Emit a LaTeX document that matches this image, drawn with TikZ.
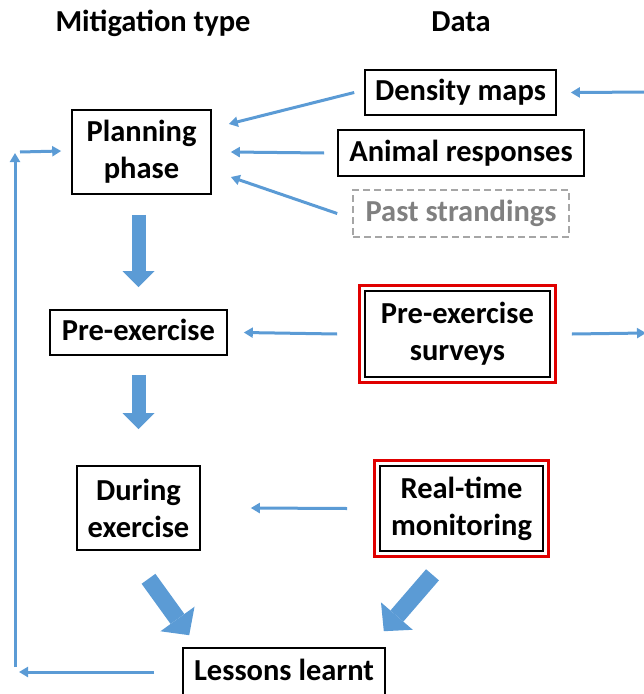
\documentclass[tikz,border=0pt]{standalone}
\usepackage{fontspec}
\setmainfont{Carlito}
\usepackage{xcolor}
\definecolor{colorLink}{HTML}{5B9BD5}
\definecolor{colorFrame}{HTML}{E00000}
\definecolor{colorPast}{HTML}{808080}
\definecolor{colorPastBorder}{HTML}{A6A6A6}
\usetikzlibrary{arrows, arrows.meta, calc, fit}
\tikzset{
  box/.style={draw, line width=1.6pt, align=center, inner sep=0pt,
    font=\fontsize{30.5pt}{37pt}\selectfont\bfseries},
  oneline/.style={text height=23pt, text depth=7pt},
  head/.style={inner sep=0pt, text height=23pt, text depth=7pt,
    font=\fontsize{30.5pt}{37pt}\selectfont\bfseries},
  redframe/.style={draw=colorFrame, line width=3pt, inner sep=4.5pt},
  link/.style={-{Triangle[length=9pt, width=10pt]}, draw=colorLink, line width=3pt},
  block/.style={draw=colorLink, line width=14pt,
    -{Triangle[length=16pt, width=32pt, line width=0pt]}},
  blockwide/.style={draw=colorLink, line width=17pt,
    -{Triangle[length=20pt, width=42pt, line width=0pt]}}
}

\begin{document}
\begin{tikzpicture}[>=stealth', x=1pt, y=-1pt]
\useasboundingbox (0,0) rectangle (644,694);
% column titles
\node[head] (htype) at (153,23) {Mitigation type};
\node[head] (hdata) at (461,23) {Data};
% data
\node[box, oneline, minimum width=191pt, minimum height=45pt] (dens) at (460.5,92.5) {Density maps};
\node[box, oneline, minimum width=246pt, minimum height=46pt] (anim) at (461,153) {Animal responses};
\node[box, oneline, draw=colorPastBorder, dash pattern=on 7pt off 4pt, text=colorPast, minimum width=216pt, minimum height=47pt] (past) at (461,213.5) {Past strandings};
\node[box, minimum width=185pt, minimum height=86pt] (surv) at (457.5,334) {Pre-exercise\\surveys};
\node[redframe, fit=(surv)] (survframe) {};
\node[box, minimum width=163pt, minimum height=85pt] (rtm) at (461.5,508.5) {Real-time\\monitoring};
\node[redframe, fit=(rtm)] (rtmframe) {};
% mitigation
\node[box, minimum width=139pt, minimum height=84pt] (plan) at (141.5,152) {Planning\\phase};
\node[box, oneline, minimum width=177pt, minimum height=45pt] (pre) at (138.5,332.5) {Pre-exercise};
\node[box, minimum width=123pt, minimum height=84pt] (during) at (138.5,508) {During\\exercise};
\node[box, oneline, minimum width=202pt, minimum height=48pt] (learn) at (284,672) {Lessons learnt};
% corners of the loops
\coordinate (rtop) at (652,92);
\coordinate (rmid) at (646,333);
\coordinate (lbot) at (15,672);
\coordinate (ltop) at (15,153);

\draw[link] ([xshift=-10pt]dens.west) -- ([xshift=17pt,yshift=28pt]plan.east);
\draw[link] ([xshift=-13pt]anim.west) -- ([xshift=19pt]plan.east);
\draw[link] ([xshift=-15pt]past.west) -- ([xshift=19pt,yshift=-25pt]plan.east);
\draw[link] ([xshift=-21pt]survframe.west) -- ([xshift=16pt]pre.east);
\draw[link] ([xshift=-26pt]rtmframe.west) -- ([xshift=50pt]during.east);
\draw[link] (rtop) -- ([xshift=14pt]dens.east);
\draw[link] ([xshift=15pt]survframe.east) -- (rmid);
\draw[link] ([xshift=-28pt]learn.west) -- ([xshift=4pt]lbot);
\draw[link] ([yshift=5pt]lbot) -- (ltop);
\draw[link] ([xshift=5pt,yshift=1pt]ltop) -- ([xshift=-10pt,yshift=1pt]plan.west);

\draw[block] ($(plan.south -| pre.north)+(0,20)$) -- ($(pre.north)+(0,-22)$);
\draw[block] ($(pre.south)+(0,19)$) -- ($(during.north)+(0,-36)$);
\draw[blockwide] ($(during.south)+(10,28)$) -- ($(learn.north west)+(7,-12)$);
\draw[blockwide] ($(rtmframe.south)+(-29,17)$) -- ($(learn.north east)+(-2,-16)$);
\end{tikzpicture}
\end{document}
